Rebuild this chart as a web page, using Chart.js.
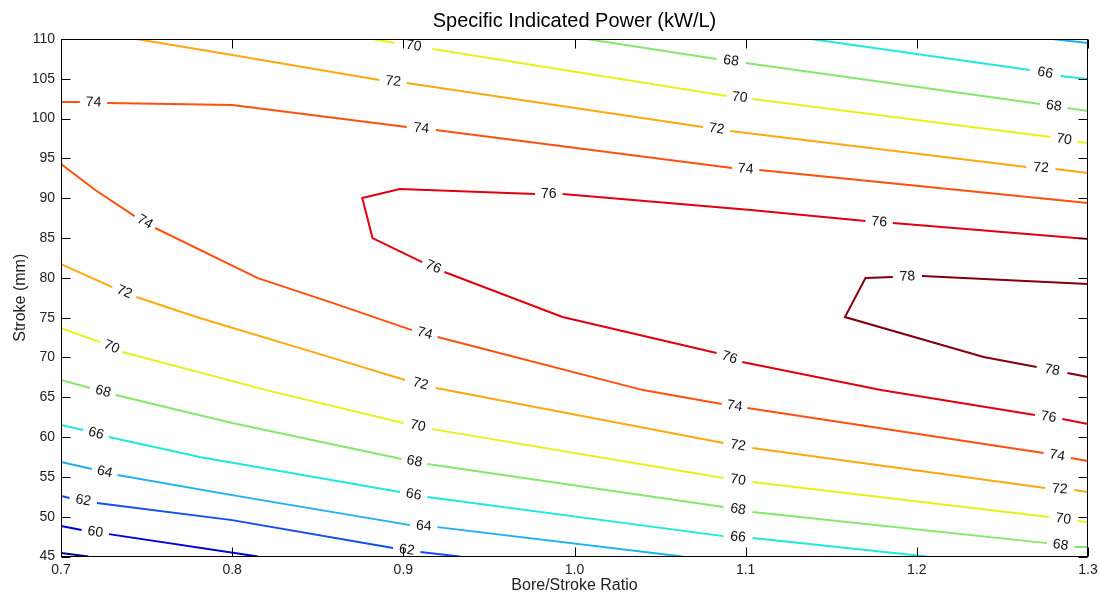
<!DOCTYPE html>
<html>
<head>
<meta charset="utf-8">
<title>Specific Indicated Power</title>
<script src="https://cdn.jsdelivr.net/npm/chart.js@4.4.1/dist/chart.umd.min.js"></script>
<style>
  html, body { margin: 0; padding: 0; background: #fff; }
  #wrap { width: 1099px; height: 599px; position: relative; }
</style>
</head>
<body>
<div id="wrap"><canvas id="powerContour"></canvas></div>
<script>
// iso-power lines, each point is [bore/stroke ratio, stroke in mm]
const levels = [58, 60, 62, 64, 66, 68, 70, 72, 74, 76, 78];
const xTicks = [0.7, 0.8, 0.9, 1.0, 1.1, 1.2, 1.3];
const yTicks = [45, 50, 55, 60, 65, 70, 75, 80, 85, 90, 95, 100, 105, 110];

const iso58 = [[0.700, 45.44], [0.716, 45.00]];
const iso60 = [[0.700, 48.82], [0.712, 48.32], [0.728, 47.81], [0.815, 45.00]];
const iso62 = [[0.700, 52.59], [0.705, 52.34], [0.721, 51.71], [0.800, 49.57], [0.894, 46.06], [0.910, 45.56], [0.933, 45.00]];
const iso64 = [[0.700, 56.86], [0.718, 55.98], [0.733, 55.23], [0.800, 52.71], [0.904, 48.94], [0.920, 48.69], [1.063, 45.00]];
const iso64b = [[1.279, 110.0], [1.300, 109.5]];
const iso66 = [[0.700, 61.51], [0.713, 60.88], [0.728, 60.00], [0.781, 57.49], [0.898, 53.09], [0.914, 52.46], [1.087, 47.56], [1.104, 47.31], [1.206, 45.00]];
const iso66b = [[1.138, 110.0], [1.266, 106.11], [1.284, 105.35], [1.300, 104.97]];
const iso68 = [[0.700, 67.16], [0.717, 66.16], [0.732, 65.28], [0.800, 61.76], [0.899, 57.24], [0.914, 56.61], [1.087, 51.21], [1.104, 50.58], [1.276, 46.68], [1.292, 46.18], [1.300, 46.18]];
const iso68b = [[1.007, 110.0], [1.083, 107.49], [1.100, 106.98], [1.272, 101.83], [1.288, 101.33], [1.300, 100.95]];
const iso70 = [[0.700, 73.69], [0.723, 71.93], [0.736, 70.68], [0.820, 65.90], [0.900, 61.76], [0.917, 61.00], [1.087, 54.85], [1.104, 54.35], [1.277, 49.95], [1.294, 49.45], [1.300, 49.32]];
const iso70b = [[0.882, 110.0], [0.895, 109.50], [0.917, 108.74], [1.089, 102.84], [1.104, 102.46], [1.278, 97.69], [1.294, 97.06], [1.300, 96.93]];
const iso72 = [[0.700, 81.73], [0.730, 78.84], [0.744, 77.59], [0.781, 74.95], [0.859, 69.92], [0.901, 67.16], [0.919, 66.16], [1.087, 59.25], [1.104, 58.62], [1.275, 53.59], [1.292, 53.34], [1.300, 53.09]];
const iso72b = [[0.744, 110.0], [0.800, 107.99], [0.886, 104.85], [0.902, 104.47], [1.075, 98.94], [1.091, 98.44], [1.264, 93.92], [1.281, 93.67], [1.300, 93.17]];
const iso74 = [[0.700, 94.30], [0.720, 91.03], [0.743, 87.76], [0.755, 86.26], [0.815, 79.97], [0.859, 76.83], [0.905, 73.44], [0.920, 72.56], [1.040, 65.90], [1.086, 64.15], [1.101, 63.64], [1.274, 57.99], [1.290, 57.36], [1.300, 56.98]];
const iso74b = [[0.700, 102.09], [0.711, 102.09], [0.727, 101.96], [0.800, 101.71], [0.902, 98.94], [0.919, 98.57], [1.092, 93.79], [1.108, 93.54], [1.300, 89.40]];
const iso76 = [[1.300, 84.87], [1.186, 86.88], [1.170, 87.14], [1.103, 88.52], [0.993, 90.53], [0.977, 90.53], [0.898, 91.16], [0.876, 90.03], [0.882, 85.00], [0.911, 81.98], [0.924, 80.73], [0.993, 75.08], [1.083, 70.55], [1.098, 69.42], [1.179, 65.90], [1.269, 62.76], [1.285, 62.26], [1.300, 61.63]];
const iso78 = [[1.300, 79.22], [1.203, 80.23], [1.186, 80.10], [1.170, 79.97], [1.158, 75.08], [1.239, 70.05], [1.270, 68.79], [1.288, 68.04], [1.300, 67.54]];

// jet-style colour per level
const levelColors = {
  58: '#00008c', 60: '#0000d8', 62: '#1050f0', 64: '#20b0f0', 66: '#20e8dc',
  68: '#84e86c', 70: '#e8f01c', 72: '#ffa810', 74: '#ff5010', 76: '#e00010', 78: '#800010'
};

// gaps = index of the segment that is left open for the inline label
const contours = [
  { level: 58, pts: iso58, gaps: [] },
  { level: 60, pts: iso60, gaps: [1] },
  { level: 62, pts: iso62, gaps: [1, 4] },
  { level: 64, pts: iso64, gaps: [1, 4] },
  { level: 64, pts: iso64b, gaps: [] },
  { level: 66, pts: iso66, gaps: [1, 4, 6] },
  { level: 66, pts: iso66b, gaps: [1] },
  { level: 68, pts: iso68, gaps: [1, 4, 6, 8] },
  { level: 68, pts: iso68b, gaps: [1, 3] },
  { level: 70, pts: iso70, gaps: [1, 4, 6, 8] },
  { level: 70, pts: iso70b, gaps: [1, 3, 5] },
  { level: 72, pts: iso72, gaps: [1, 5, 7, 9] },
  { level: 72, pts: iso72b, gaps: [2, 4, 6] },
  { level: 74, pts: iso74, gaps: [2, 6, 9, 11] },
  { level: 74, pts: iso74b, gaps: [1, 4, 6] },
  { level: 76, pts: iso76, gaps: [1, 4, 9, 12, 15] },
  { level: 78, pts: iso78, gaps: [1, 6] }
];

const FONT = '"Liberation Sans", Arial, Helvetica, sans-serif';
Chart.defaults.font.family = FONT;

const datasets = contours.map(c => {
  const open = new Set(c.gaps);
  return {
    level: c.level,
    gaps: c.gaps,
    data: c.pts.map(p => ({ x: p[0], y: p[1] })),
    showLine: true,
    borderColor: levelColors[c.level],
    borderWidth: 2,
    pointRadius: 0,
    tension: 0,
    segment: {
      borderColor: ctx => open.has(ctx.p0DataIndex) ? 'transparent' : undefined
    }
  };
});

// level numbers written along the line inside each gap
const isoLabels = {
  id: 'isoLabels',
  afterDatasetsDraw(chart) {
    const ctx = chart.ctx;
    ctx.save();
    ctx.font = '14px ' + FONT;
    ctx.fillStyle = '#111';
    ctx.textAlign = 'center';
    ctx.textBaseline = 'middle';
    chart.data.datasets.forEach((ds, i) => {
      const els = chart.getDatasetMeta(i).data;
      ds.gaps.forEach(g => {
        const a = els[g], b = els[g + 1];
        let ang = Math.atan2(b.y - a.y, b.x - a.x);
        if (ang > Math.PI / 2) ang -= Math.PI;
        if (ang < -Math.PI / 2) ang += Math.PI;
        ctx.save();
        ctx.translate((a.x + b.x) / 2, (a.y + b.y) / 2);
        ctx.rotate(ang);
        ctx.fillText(String(ds.level), 0, 0);
        ctx.restore();
      });
    });
    ctx.restore();
  }
};

// boxed axes with inward tick marks on all four sides
const frame = {
  id: 'frame',
  afterDatasetsDraw(chart) {
    const { ctx, chartArea: a, scales: { x, y } } = chart;
    const len = 9;
    const l = Math.round(a.left) + 0.5, r = Math.round(a.right) - 0.5;
    const t = Math.round(a.top) + 0.5, b = Math.round(a.bottom) - 0.5;
    ctx.save();
    ctx.strokeStyle = '#000';
    ctx.lineWidth = 1;
    ctx.strokeRect(l, t, r - l, b - t);
    ctx.beginPath();
    xTicks.forEach(v => {
      const px = Math.round(x.getPixelForValue(v)) + 0.5;
      ctx.moveTo(px, b); ctx.lineTo(px, b - len);
      ctx.moveTo(px, t); ctx.lineTo(px, t + len);
    });
    yTicks.forEach(v => {
      const py = Math.round(y.getPixelForValue(v)) + 0.5;
      ctx.moveTo(l, py); ctx.lineTo(l + len, py);
      ctx.moveTo(r, py); ctx.lineTo(r - len, py);
    });
    ctx.stroke();
    ctx.restore();
  }
};

new Chart(document.getElementById('powerContour').getContext('2d'), {
  type: 'scatter',
  data: { datasets },
  options: {
    responsive: true,
    maintainAspectRatio: false,
    animation: false,
    layout: { padding: { top: 0, right: 11, bottom: 0, left: 0 } },
    plugins: {
      legend: { display: false },
      tooltip: { enabled: false },
      title: {
        display: true,
        fullSize: false,
        text: 'Specific Indicated Power (kW/L)',
        color: '#000',
        font: { size: 20, weight: 'normal' },
        padding: { top: 9, bottom: 6 }
      }
    },
    scales: {
      x: {
        type: 'linear',
        min: 0.7,
        max: 1.3,
        afterBuildTicks: s => { s.ticks = xTicks.map(v => ({ value: v })); },
        afterFit: s => { s.height = 42.5; s.paddingLeft = 0; s.paddingRight = 0; },
        grid: { display: false, drawTicks: false },
        border: { display: false },
        ticks: {
          padding: 5,
          color: '#222',
          font: { size: 14 },
          maxRotation: 0,
          autoSkip: false,
          callback: v => Number(v).toFixed(1)
        },
        title: {
          display: true,
          text: 'Bore/Stroke Ratio',
          color: '#222',
          font: { size: 16 },
          padding: { top: 2, bottom: 4 }
        }
      },
      y: {
        type: 'linear',
        min: 45,
        max: 110,
        afterBuildTicks: s => { s.ticks = yTicks.map(v => ({ value: v })); },
        afterFit: s => { s.width = 61; s.paddingTop = 0; s.paddingBottom = 0; },
        grid: { display: false, drawTicks: false },
        border: { display: false },
        ticks: { padding: 6, color: '#222', font: { size: 14 }, autoSkip: false },
        title: {
          display: true,
          text: 'Stroke (mm)',
          color: '#222',
          font: { size: 16 },
          padding: { top: 11, bottom: 4 }
        }
      }
    }
  },
  plugins: [isoLabels, frame]
});
</script>
</body>
</html>
